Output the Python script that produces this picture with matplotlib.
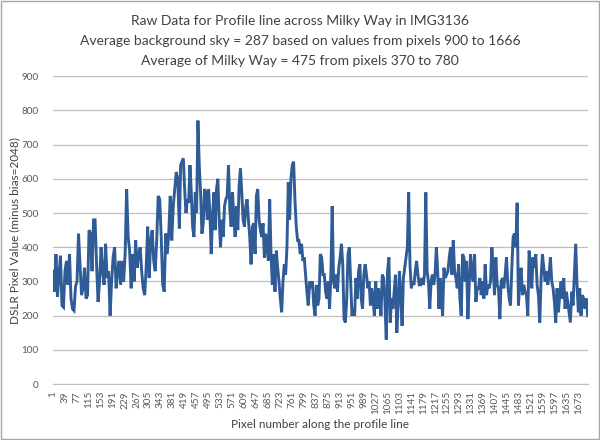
import numpy as np
import matplotlib
matplotlib.use("Agg")
import matplotlib.pyplot as plt
from matplotlib.patches import Rectangle

plt.rcParams['font.family'] = ['Lato', 'DejaVu Sans']

# values, in four stretches along the profile line
seg1 = [330, 270, 380, 255, 320, 375, 230, 225, 330, 360, 290, 380, 250, 220, 215,
        285, 300, 440, 350, 260, 280, 340, 250, 260, 450, 440, 330, 480, 480, 350,
        240, 300, 400, 330, 290, 410, 310, 330, 200, 300, 370, 400, 280, 330, 360,
        290, 360, 300, 380, 570, 430, 390, 280, 380, 300, 420, 340, 380, 400, 330,
        280, 260, 340, 460, 310, 420, 450, 360, 330, 420, 550, 540, 430, 290, 270,
        440, 380, 440, 550, 420, 520, 570, 620, 600]
seg2 = [455, 640, 650, 660, 570, 500, 540, 530, 640, 560, 460, 430, 560, 500, 770,
        640, 560, 440, 470, 570, 560, 480, 570, 500, 380, 490, 560, 450, 570, 600,
        480, 400, 480, 430, 520, 540, 550, 640, 510, 460, 560, 490, 430, 520, 450,
        580, 630, 560, 480, 460, 520, 540, 480, 430, 350, 460, 470, 380, 550, 570,
        480, 450, 430, 470, 370, 440, 400, 360, 540, 380, 290, 380, 270, 390, 340,
        300, 250, 210, 300, 350, 320, 400, 590, 480, 600, 640, 650, 540, 460, 420,
        420, 380, 410, 360, 370, 320, 270, 230]
seg3 = [300, 290, 300, 230, 200, 290, 230, 250, 380, 370, 320, 320, 270, 250, 300,
        220, 320, 520, 300, 280, 320, 270, 340, 370, 410, 350, 190, 180, 250, 380,
        400, 300, 200, 220, 200, 310, 250, 330, 350, 250, 220, 320, 350, 320, 280,
        300, 230, 280, 250, 200, 300, 220, 280, 260, 200, 320, 310, 240, 130, 330,
        370, 180, 250, 220, 270, 320, 150, 230, 330, 260, 170, 310, 340, 370, 400,
        560, 350, 280, 300, 290, 330, 360, 320, 290, 290, 310, 290, 320, 560, 330,
        300, 220, 300, 320, 290, 320, 400, 330, 220]
seg4 = [310, 260, 200, 340, 310, 320, 330, 370, 400, 320, 420, 330, 310, 280, 350,
        250, 200, 380, 370, 300, 360, 190, 290, 380, 320, 300, 380, 240, 280, 280,
        310, 260, 300, 250, 350, 260, 290, 280, 300, 400, 340, 260, 370, 290, 280,
        190, 300, 310, 280, 320, 370, 290, 250, 230, 340, 430, 440, 400, 530, 230,
        300, 340, 260, 290, 270, 260, 200, 390, 350, 280, 370, 340, 380, 290, 260,
        180, 310, 380, 340, 300, 330, 290, 320, 370, 300, 280, 240, 180, 280, 210,
        260, 300, 250, 310, 220, 270, 240, 210, 180, 270, 230, 320, 410, 290, 210,
        280, 200, 260, 250, 220, 250, 200]
# pixel-number span covered by each stretch
seg_spans = [(1, 398), (403, 813), (818, 1229), (1232, 1702)]

tick_pos = list(range(1, 1700, 38))
tick_labels = [str(t) for t in tick_pos]

xs, ys = [], []
for seg, (a, b) in zip([seg1, seg2, seg3, seg4], seg_spans):
    xs.extend(np.linspace(a, b, len(seg)))
    ys.extend(seg)

fig = plt.figure(figsize=(6, 4.4), dpi=100)
ax = fig.add_axes([0.088, 0.127, 0.892, 0.7])

ax.plot(xs, ys, color='#2f5b97', lw=2.1, solid_joinstyle='miter')

ax.set_xlim(0.5, 1703)
ax.set_ylim(0, 900)
ax.set_yticks(range(0, 901, 100))
ax.set_xticks(tick_pos)
ax.set_xticklabels(tick_labels, rotation=90)
ax.tick_params(axis='both', length=0, labelsize=7.2, labelcolor='#595959')
ax.tick_params(axis='y', pad=10)
ax.tick_params(axis='x', pad=5)
ax.grid(axis='y', color='#bfbfbf', lw=0.9)
ax.set_axisbelow(True)
for s in ['left', 'right', 'top']:
    ax.spines[s].set_visible(False)
ax.spines['bottom'].set_color('#bfbfbf')

ax.set_xlabel("Pixel number along the profile line", fontsize=8.5, color='#404040', labelpad=3)
ax.set_ylabel("DSLR Pixel Value (minus bias=2048)", fontsize=8.5, color='#404040', labelpad=1)

fig.text(0.5, 0.952, "Raw Data for Profile line across Milky Way in IMG3136",
         ha='center', va='center', fontsize=10, color='#404040')
fig.text(0.5, 0.907, "Average background sky = 287 based on values from pixels 900 to 1666",
         ha='center', va='center', fontsize=10, color='#404040')
fig.text(0.5, 0.861, "Average of Milky Way = 475 from pixels 370 to 780",
         ha='center', va='center', fontsize=10, color='#404040')

fig.patches.append(Rectangle((0.002, 0.002), 0.996, 0.996, transform=fig.transFigure,
                             fill=False, edgecolor='#a6a6a6', lw=1))

fig.savefig("out.png", dpi=100)
